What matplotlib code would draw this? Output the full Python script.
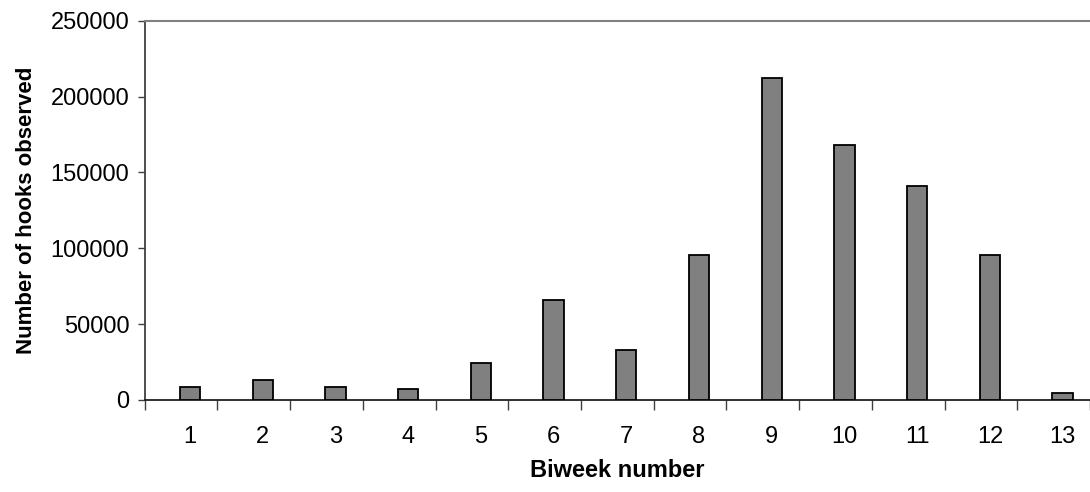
import numpy as np
import matplotlib
matplotlib.use('agg')
import matplotlib.pyplot as plt

plt.rc('font', family=['Liberation Sans', 'DejaVu Sans'])

# hooks observed per biweek
biweeks = ['1', '2', '3', '4', '5', '6', '7', '8', '9', '10', '11', '12', '13']
hooks = [8600, 13400, 8600, 7400, 24600, 66100, 33000, 95600,
         212000, 167900, 141000, 95600, 4800]

fig = plt.figure(figsize=(10.9, 4.92), dpi=100)
ax = fig.add_axes([0.1328, 0.187, 0.8672, 0.771])

x = np.arange(len(biweeks))
ax.bar(x, hooks, width=0.28, color='#808080', edgecolor='black', linewidth=1.3,
       zorder=3)

ax.set_ylim(0, 250000)
ax.set_yticks(np.arange(0, 250001, 50000))
ax.set_xlim(-0.623, 12.29)

# category boundary ticks, labels under the bars
ax.set_xticks(np.arange(len(biweeks) + 1) - 0.623)
ax.set_xticklabels([])
ax.set_xticks(x, minor=True)
ax.set_xticklabels(biweeks, minor=True)
ax.tick_params(axis='x', which='major', direction='out', length=7, width=1,
               color='#404040')
ax.tick_params(axis='x', which='minor', length=0, pad=19, labelsize=17)
ax.tick_params(axis='y', direction='out', length=5, width=1, color='#404040',
               labelsize=17, pad=6)

ax.spines['right'].set_visible(False)
ax.spines['top'].set_color('#808080')
ax.spines['top'].set_linewidth(1.5)
ax.spines['left'].set_color('#404040')
ax.spines['left'].set_linewidth(1.3)
ax.spines['bottom'].set_color('#202020')
ax.spines['bottom'].set_linewidth(1.3)

ax.set_xlabel('Biweek number', fontsize=17, fontweight='bold', labelpad=8)
ax.set_ylabel('Number of hooks observed', fontsize=16, fontweight='bold',
              labelpad=10)

plt.savefig('out.png', dpi=100)
plt.close()
